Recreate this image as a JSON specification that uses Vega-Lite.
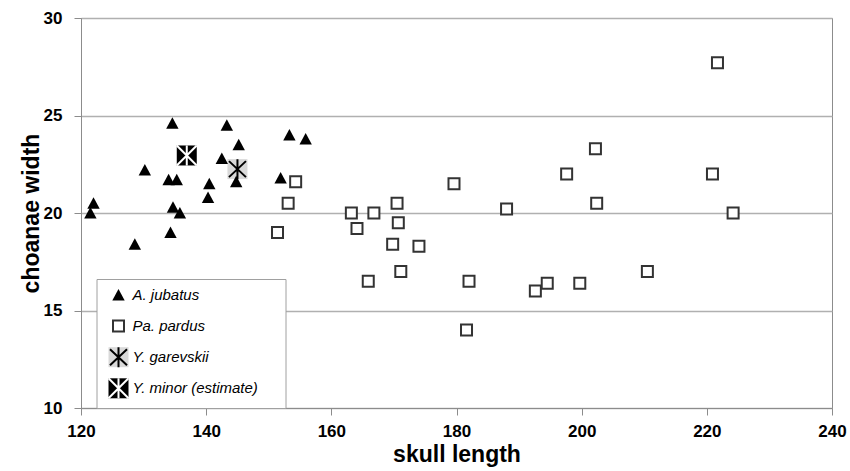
{
  "$schema": "https://vega.github.io/schema/vega-lite/v6.json",
  "width": 751,
  "height": 390,
  "autosize": {"type": "none"},
  "padding": {"left": 81, "top": 18, "right": 18, "bottom": 63},
  "background": "white",
  "config": {
    "view": {"stroke": "#8c8c8c", "strokeWidth": 1},
    "axis": {
      "labelFont": "Liberation Sans",
      "labelFontWeight": "bold",
      "labelFontSize": 17,
      "labelColor": "black",
      "titleFont": "Liberation Sans",
      "titleFontWeight": "bold",
      "titleFontSize": 23,
      "titleColor": "black",
      "domainColor": "#8c8c8c",
      "tickColor": "#8c8c8c",
      "tickSize": 7,
      "gridColor": "#b0b0b0",
      "gridWidth": 1.5,
      "labelFlush": false,
      "labelOverlap": false
    },
    "legend": {
      "labelFont": "Liberation Sans",
      "labelFontStyle": "italic",
      "labelFontSize": 15,
      "labelColor": "black",
      "symbolSize": 400,
      "symbolStrokeWidth": 2,
      "rowPadding": 3.1,
      "padding": 5,
      "symbolOffset": 6,
      "labelOffset": 3,
      "direction": "vertical",
      "orient": "none",
      "legendX": 15.5,
      "legendY": 261
    }
  },
  "data": {
    "values": [
      {"x": 134.6, "y": 24.6, "species": "A. jubatus"},
      {"x": 130.2, "y": 22.2, "species": "A. jubatus"},
      {"x": 134.0, "y": 21.7, "species": "A. jubatus"},
      {"x": 135.3, "y": 21.7, "species": "A. jubatus"},
      {"x": 122.0, "y": 20.5, "species": "A. jubatus"},
      {"x": 121.5, "y": 20.0, "species": "A. jubatus"},
      {"x": 134.7, "y": 20.3, "species": "A. jubatus"},
      {"x": 135.8, "y": 20.0, "species": "A. jubatus"},
      {"x": 134.3, "y": 19.0, "species": "A. jubatus"},
      {"x": 128.6, "y": 18.4, "species": "A. jubatus"},
      {"x": 140.5, "y": 21.5, "species": "A. jubatus"},
      {"x": 140.3, "y": 20.8, "species": "A. jubatus"},
      {"x": 143.3, "y": 24.5, "species": "A. jubatus"},
      {"x": 145.2, "y": 23.5, "species": "A. jubatus"},
      {"x": 142.5, "y": 22.8, "species": "A. jubatus"},
      {"x": 144.8, "y": 21.6, "species": "A. jubatus"},
      {"x": 153.3, "y": 24.0, "species": "A. jubatus"},
      {"x": 155.9, "y": 23.8, "species": "A. jubatus"},
      {"x": 151.9, "y": 21.8, "species": "A. jubatus"},
      {"x": 154.3, "y": 21.6, "species": "Pa. pardus"},
      {"x": 153.1, "y": 20.5, "species": "Pa. pardus"},
      {"x": 151.4, "y": 19.0, "species": "Pa. pardus"},
      {"x": 179.6, "y": 21.5, "species": "Pa. pardus"},
      {"x": 170.5, "y": 20.5, "species": "Pa. pardus"},
      {"x": 163.2, "y": 20.0, "species": "Pa. pardus"},
      {"x": 166.8, "y": 20.0, "species": "Pa. pardus"},
      {"x": 170.7, "y": 19.5, "species": "Pa. pardus"},
      {"x": 164.1, "y": 19.2, "species": "Pa. pardus"},
      {"x": 169.8, "y": 18.4, "species": "Pa. pardus"},
      {"x": 174.0, "y": 18.3, "species": "Pa. pardus"},
      {"x": 171.1, "y": 17.0, "species": "Pa. pardus"},
      {"x": 165.9, "y": 16.5, "species": "Pa. pardus"},
      {"x": 197.6, "y": 22.0, "species": "Pa. pardus"},
      {"x": 188.0, "y": 20.2, "species": "Pa. pardus"},
      {"x": 202.4, "y": 20.5, "species": "Pa. pardus"},
      {"x": 182.0, "y": 16.5, "species": "Pa. pardus"},
      {"x": 192.6, "y": 16.0, "species": "Pa. pardus"},
      {"x": 194.5, "y": 16.4, "species": "Pa. pardus"},
      {"x": 199.7, "y": 16.4, "species": "Pa. pardus"},
      {"x": 181.6, "y": 14.0, "species": "Pa. pardus"},
      {"x": 202.2, "y": 23.3, "species": "Pa. pardus"},
      {"x": 221.7, "y": 27.7, "species": "Pa. pardus"},
      {"x": 220.9, "y": 22.0, "species": "Pa. pardus"},
      {"x": 224.2, "y": 20.0, "species": "Pa. pardus"},
      {"x": 210.5, "y": 17.0, "species": "Pa. pardus"},
      {"x": 145.0, "y": 22.25, "species": "Y. garevskii"},
      {"x": 136.9, "y": 22.95, "species": "Y. minor (estimate)"}
    ]
  },
  "layer": [
    {
      "transform": [{"filter": "datum.species == 'Y. garevskii' || datum.species == 'Y. minor (estimate)'"}],
      "mark": {"type": "point", "shape": "square", "filled": true, "size": 400, "opacity": 1, "strokeWidth": 0},
      "encoding": {
        "x": {
          "field": "x", "type": "quantitative",
          "scale": {"domain": [120, 240], "nice": false, "zero": false},
          "axis": {"title": "skull length", "values": [120, 140, 160, 180, 200, 220, 240], "grid": false, "labelPadding": 8, "titlePadding": 4}
        },
        "y": {
          "field": "y", "type": "quantitative",
          "scale": {"domain": [10, 30], "nice": false, "zero": false},
          "axis": {"title": "choanae width", "values": [10, 15, 20, 25, 30], "grid": true, "labelPadding": 12, "titlePadding": 0}
        },
        "color": {
          "field": "species", "type": "nominal",
          "scale": {
            "domain": ["A. jubatus", "Pa. pardus", "Y. garevskii", "Y. minor (estimate)"],
            "range": ["transparent", "transparent", "#d9d9d9", "#000000"]
          },
          "legend": {
            "title": null,
            "fillColor": "white",
            "strokeColor": "#a0a0a0",
            "labelExpr": "''",
            "labelOffset": 151,
            "symbolType": "square",
            "symbolStrokeColor": "transparent",
            "zindex": 0
          }
        }
      }
    },
    {
      "mark": {"type": "point", "filled": true, "size": 400, "opacity": 1, "strokeWidth": 2},
      "encoding": {
        "x": {"field": "x", "type": "quantitative"},
        "y": {"field": "y", "type": "quantitative"},
        "shape": {
          "field": "species", "type": "nominal",
          "scale": {
            "range": [
              "M-1,-1M1,1M0,-0.6L0.62,0.55L-0.62,0.55Z",
              "M-1,-1M1,1M-0.55,-0.55L0.55,-0.55L0.55,0.55L-0.55,0.55Z",
              "M-1,-1M1,1M0,-1L0,1M-0.85,-0.8L0.85,0.8M-0.85,0.8L0.85,-0.8",
              "M-1,-1M1,1M0,-1L0,1M-1,-1L1,1M-1,1L1,-1"
            ]
          },
          "legend": {"title": null, "zindex": 1}
        },
        "fill": {
          "field": "species", "type": "nominal",
          "scale": {"range": ["#000000", "#ffffff", "transparent", "transparent"]},
          "legend": {"title": null}
        },
        "stroke": {
          "field": "species", "type": "nominal",
          "scale": {"range": ["transparent", "#333333", "#000000", "#ffffff"]},
          "legend": {"title": null}
        }
      }
    }
  ]
}
